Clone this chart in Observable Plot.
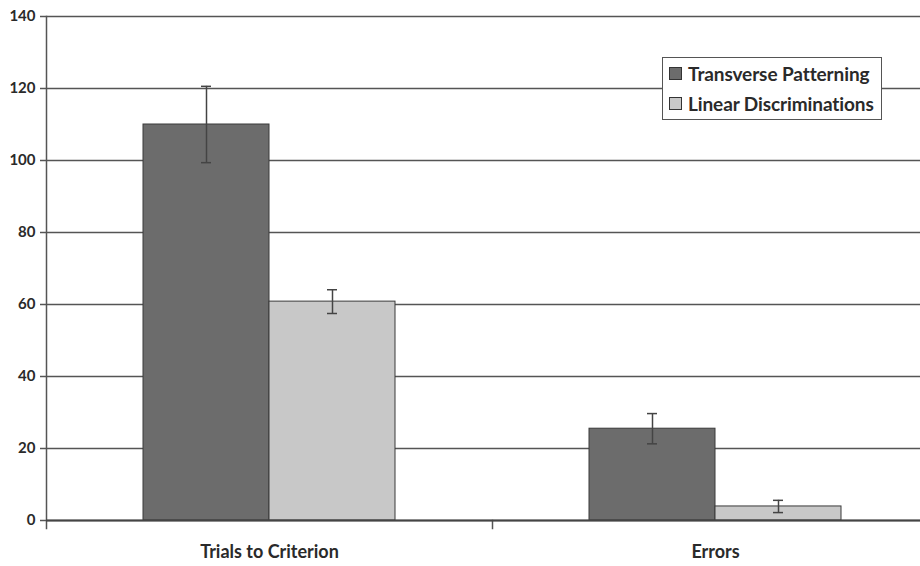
<!DOCTYPE html>
<html>
<head>
<meta charset="utf-8">
<script src="https://cdn.jsdelivr.net/npm/d3@7"></script>
<script src="https://cdn.jsdelivr.net/npm/@observablehq/plot@0.6"></script>
<style>
  html, body { margin: 0; padding: 0; background: #fff; overflow: hidden; }
  #wrap { position: relative; width: 920px; height: 566px; overflow: hidden; font-family: Lato, "Open Sans", sans-serif; }
  #chart svg { max-width: none !important; }
  #legend { position: absolute; left: 662px; top: 57px; width: 220px; height: 63px; border: 1.5px solid #555; background: #fff; box-sizing: border-box; padding: 0 0 0 6px; }
  .row { display: flex; align-items: center; height: 30px; font-size: 19px; font-weight: 700; color: #2a2a2a; white-space: nowrap; letter-spacing: -0.1px; }
  .sw { width: 13px; height: 13px; border: 1px solid #333; margin-right: 6px; box-sizing: border-box; }
</style>
</head>
<body>
<div id="wrap"><div id="chart"></div><div id="legend"></div></div>
<script>
const categories = ["Trials to Criterion", "Errors"];
const series = ["Transverse Patterning", "Linear Discriminations"];
const tpMeans = [110, 25.5];
const tpErrors = [10.6, 4.2];
const ldMeans = [60.8, 3.9];
const ldErrors = [3.3, 1.7];
const yTicks = [0, 20, 40, 60, 80, 100, 120, 140];
const colors = ["#6c6c6c", "#c8c8c8"];

const data = [];
categories.forEach((c, i) => {
  data.push({category: c, series: series[0], mean: tpMeans[i], err: tpErrors[i]});
  data.push({category: c, series: series[1], mean: ldMeans[i], err: ldErrors[i]});
});

const chart = Plot.plot({
  width: 938,
  height: 566,
  marginLeft: 46,
  marginRight: 0,
  marginTop: 16,
  marginBottom: 46,
  style: {fontFamily: "Lato, 'Open Sans', sans-serif", background: "#fff", maxWidth: "none"},
  fx: {domain: categories, padding: 0, label: null, axis: null},
  x: {domain: series, paddingInner: 0, paddingOuter: 0.756, axis: null},
  y: {domain: [0, 140], label: null},
  color: {domain: series, range: colors},
  marks: [
    Plot.ruleY(yTicks, {stroke: "#555", strokeWidth: 1.5}),
    Plot.barY(data, {fx: "category", x: "series", y: "mean", fill: "series", stroke: "#3a3a3a", strokeWidth: 1}),
    Plot.ruleX(data, {fx: "category", x: "series", y1: d => d.mean - d.err, y2: d => d.mean + d.err, stroke: "#444", strokeWidth: 1.5}),
    Plot.tickY(data, {fx: "category", x: "series", y: d => d.mean + d.err, stroke: "#444", strokeWidth: 1.5, insetLeft: 58, insetRight: 58}),
    Plot.tickY(data, {fx: "category", x: "series", y: d => d.mean - d.err, stroke: "#444", strokeWidth: 1.5, insetLeft: 58, insetRight: 58}),
    Plot.frame({anchor: "left", facetAnchor: "left", stroke: "#555", strokeWidth: 1.5, insetBottom: -8}),
    Plot.frame({anchor: "left", facetAnchor: "right", stroke: "#555", strokeWidth: 1.5, insetTop: 504, insetBottom: -8}),
    Plot.ruleY([0], {stroke: "#444", strokeWidth: 1.8}),
    Plot.axisY(yTicks, {anchor: "left", tickSize: 6, tickPadding: 5, fontSize: 15, fontWeight: 700, fill: "#2a2a2a", stroke: "#555", strokeWidth: 1.5, label: null}),
    Plot.text(categories, {fx: d => d, text: d => d, frameAnchor: "bottom", dy: 37, fontSize: 18, fontWeight: 700, fill: "#2a2a2a"})
  ]
});
chart.style.maxWidth = "none";
document.getElementById("chart").appendChild(chart);

const legend = document.getElementById("legend");
series.forEach((s, i) => {
  const row = document.createElement("div");
  row.className = "row";
  const sw = document.createElement("div");
  sw.className = "sw";
  sw.style.background = colors[i];
  row.appendChild(sw);
  const t = document.createElement("span");
  t.textContent = s;
  row.appendChild(t);
  legend.appendChild(row);
});
</script>
</body>
</html>
